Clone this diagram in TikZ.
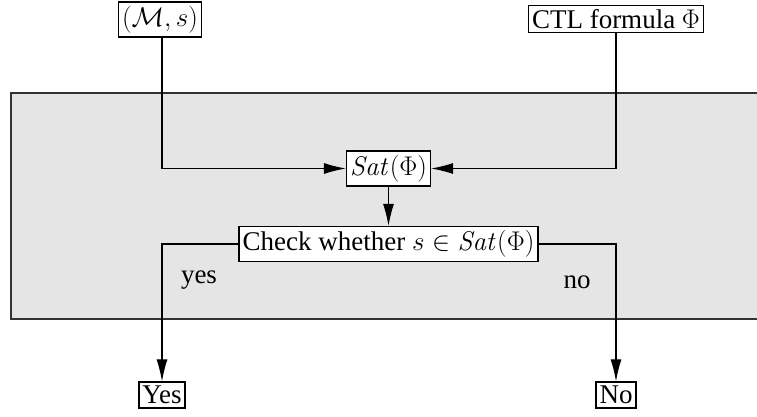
\RequirePackage{fix-cm}
\documentclass[tikz,border=0pt]{standalone}
\usepackage[no-math]{fontspec}
\setmainfont{Liberation Serif}
\usetikzlibrary{arrows.meta}
\begin{document}
\begin{tikzpicture}[x=1pt,y=-1pt,
  every node/.style={font=\fontsize{27}{31}\selectfont},
  box/.style={draw,fill=white,line width=1.3pt,inner xsep=3.5pt,inner ysep=4pt},
  lbl/.style={inner sep=0pt},
  conn/.style={line width=1.1pt},
  arr/.style={conn,-{Latex[length=22pt,width=11pt]}}]
  \useasboundingbox (0,0) rectangle (757,417);
  % shaded region of the algorithm
  \fill[gray!20] (11,93) rectangle (760,319);
  \draw[line width=2pt,black!80] (760,93) -- (11,93) -- (11,319) -- (760,319);
  % inputs
  \node[box] (ms) at (160,19.5) {$(\mathcal{M},s)$};
  \node[box] (ctl) at (616,19) {CTL formula $\Phi$};
  % computation steps
  \node[box] (sat) at (388.5,168.5) {$\mathit{Sat}(\Phi)$};
  \node[box] (chk) at (388.5,244) {Check whether $s\in \mathit{Sat}(\Phi)$};
  % outputs
  \node[box] (yes) at (162,395) {Yes};
  \node[box] (no) at (616,395) {No};
  % turning points of the connectors
  \coordinate (l1) at (162,168.5);
  \coordinate (r1) at (616,168.5);
  \coordinate (l2) at (162,244);
  \coordinate (r2) at (616,244);
  % connectors
  \draw[arr] (ms.south -| l1) -- (l1) -- (sat.west);
  \draw[arr] (ctl.south) -- (r1) -- (sat.east);
  \draw[arr] (sat.south) -- (chk.north);
  \draw[arr] (chk.west) -- (l2) -- (yes.north);
  \draw[arr] (chk.east) -- (r2) -- (no.north);
  % branch labels
  \node[lbl] (ly) at (199,280) {yes};
  \node[lbl] (ln) at (577,282) {no};
\end{tikzpicture}
\end{document}
